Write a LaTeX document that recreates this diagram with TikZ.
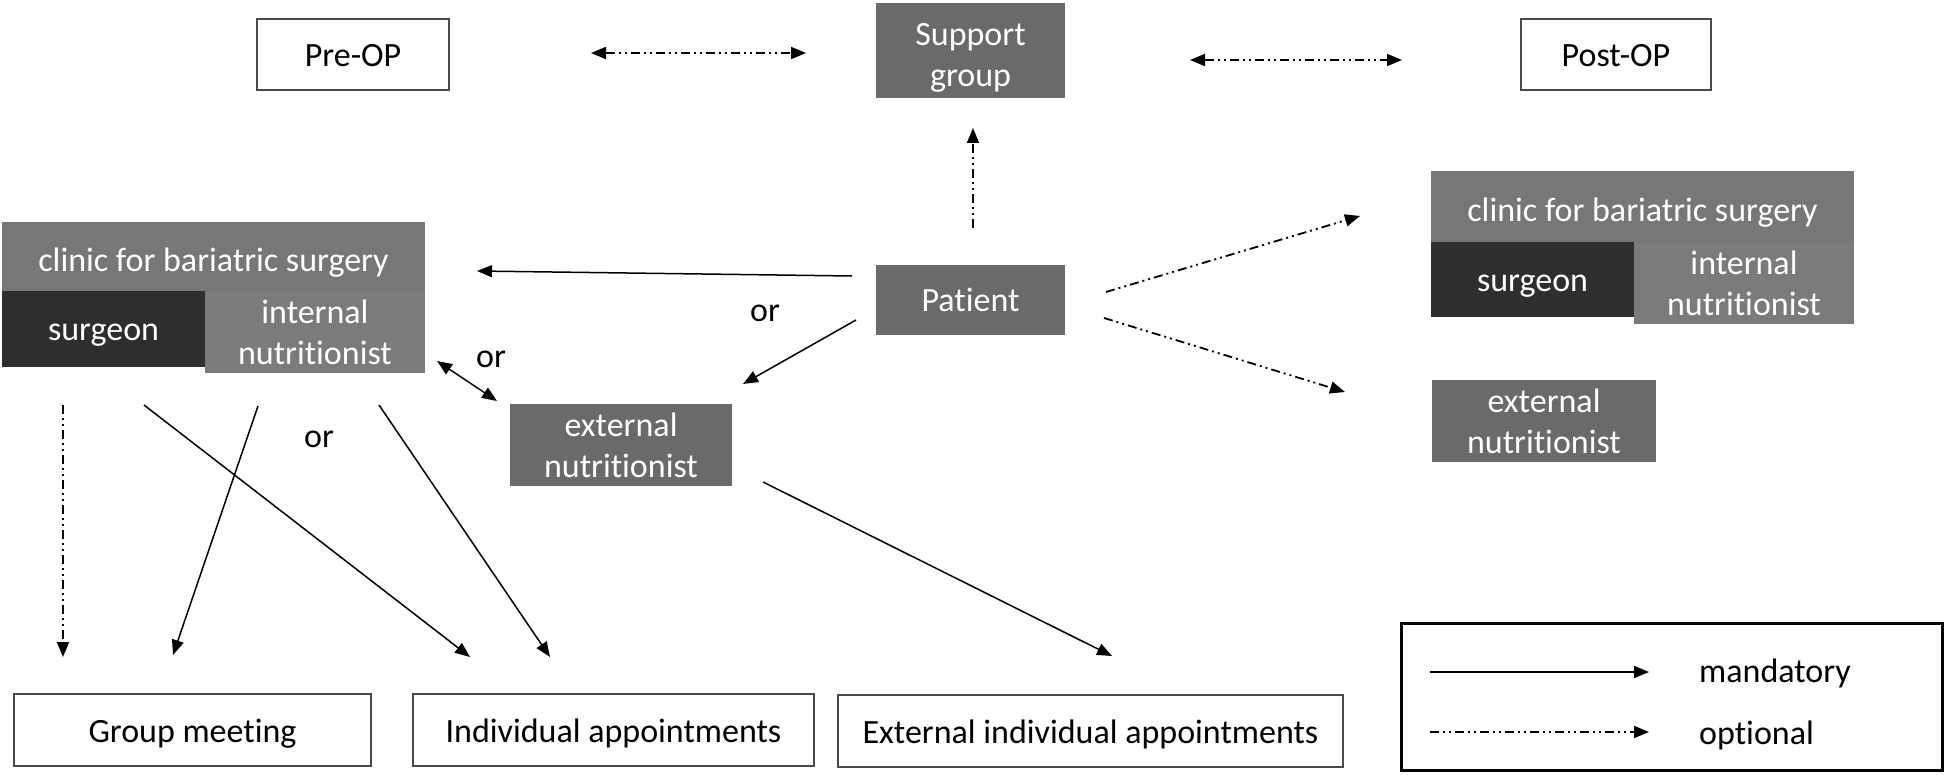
\documentclass[tikz,border=0pt]{standalone}
\usepackage{fontspec}
\setmainfont{Carlito}[Ligatures={CommonOff,ContextualOff}]
\usetikzlibrary{arrows.meta}
\definecolor{boxgray}{HTML}{6A6A6A}
\definecolor{titlegray}{HTML}{777777}
\definecolor{intgray}{HTML}{7B7B7B}
\definecolor{surggray}{HTML}{2E2E2E}
\definecolor{edgegray}{HTML}{4A4A4A}
\newcommand{\mystrut}{\rule[-8.5pt]{0pt}{41pt}}
\newcommand{\mytallstrut}{\rule[-8.5pt]{0pt}{48pt}}
\tikzset{
  base/.style={rectangle, inner sep=0pt, outer sep=0pt, anchor=north west, align=center, font=\fontsize{34}{41}\selectfont},
  whitebox/.style={base, draw=edgegray, line width=2.2pt, fill=white, text=black},
  graybox/.style={base, fill=boxgray, text=white},
  titlebox/.style={base, fill=titlegray, text=white},
  intbox/.style={base, fill=intgray, text=white},
  surgbox/.style={base, fill=surggray, text=white},
  lbl/.style={font=\fontsize{34}{41}\selectfont, inner sep=0pt},
  tip/.style={-{Triangle[length=15pt,width=12pt]}},
  tips/.style={{Triangle[length=15pt,width=12pt]}-{Triangle[length=15pt,width=12pt]}},
  mand/.style={line width=1.5pt, tip},
  mands/.style={line width=1.5pt, tips},
  opt/.style={line width=1.8pt, tip, dash pattern=on 9pt off 4pt on 2pt off 4pt on 2pt off 4pt},
  opts/.style={line width=1.8pt, tips, dash pattern=on 9pt off 4pt on 2pt off 4pt on 2pt off 4pt},
}
\begin{document}
\begin{tikzpicture}[x=1pt,y=-1pt]
\useasboundingbox (0,0) rectangle (1946,775);

% top row
\node[whitebox, minimum width=192pt, minimum height=71pt] (pre) at (257,19) {\mystrut Pre-OP\mystrut};
\node[graybox, minimum width=189pt, minimum height=95pt] (sup) at (876,3) {\mytallstrut Support\\group\mystrut};
\node[whitebox, minimum width=190pt, minimum height=71pt] (post) at (1521,19) {\mystrut Post-OP\mystrut};

% patient
\node[graybox, minimum width=189pt, minimum height=70pt] (pat) at (876,265) {\mystrut Patient\mystrut};

% left clinic
\node[titlebox, minimum width=423pt, minimum height=69pt] (lclinic) at (2,222) {\mytallstrut clinic for bariatric surgery\mystrut};
\node[surgbox, minimum width=203pt, minimum height=76pt] (lsurg) at (2,291) {\mystrut surgeon\mystrut};
\node[intbox, minimum width=220pt, minimum height=76pt] (lint) at (205,291) {\mystrut internal\\nutritionist\mystrut};

% central external nutritionist
\node[graybox, minimum width=222pt, minimum height=75pt] (cext) at (510,404) {\mystrut external\\nutritionist\mystrut};

% right clinic
\node[titlebox, minimum width=423pt, minimum height=71pt] (rclinic) at (1431,171) {\mytallstrut clinic for bariatric surgery\mystrut};
\node[surgbox, minimum width=203pt, minimum height=75pt] (rsurg) at (1431,242) {\mystrut surgeon\mystrut};
\node[intbox, minimum width=220pt, minimum height=75pt] (rint) at (1634,242) {\mystrut internal\\nutritionist\mystrut};

% right external nutritionist
\node[graybox, minimum width=224pt, minimum height=75pt] (rext) at (1432,380) {\mystrut external\\nutritionist\mystrut};

% bottom row
\node[whitebox, minimum width=357pt, minimum height=72pt] (group) at (14,694) {\mystrut Group meeting\mystrut};
\node[whitebox, minimum width=401pt, minimum height=72pt] (indiv) at (413,694) {\mystrut Individual appointments\mystrut};
\node[whitebox, minimum width=505pt, minimum height=72pt] (extapp) at (838,695) {\mystrut External individual appointments\mystrut};

% legend
\node[base, draw=black, line width=3pt, minimum width=541pt, minimum height=147pt] (legend) at (1401,623) {};
\node[lbl, anchor=west] (lmand) at (1699,673.5) {mandatory};
\node[lbl, anchor=west] (lopt) at (1699,735) {optional};

% "or" labels
\node[lbl] (or1) at (491,359) {or};
\node[lbl] (or2) at (765,313) {or};
\node[lbl] (or3) at (319,439) {or};

% connector end points
\coordinate (a1) at (591,53);  \coordinate (a2) at (806,53);
\coordinate (b1) at (1190,60); \coordinate (b2) at (1402,60);
\coordinate (c1) at (973,228); \coordinate (c2) at (973,128);
\coordinate (d1) at (852,276); \coordinate (d2) at (477,271);
\coordinate (e1) at (856,320); \coordinate (e2) at (743,384);
\coordinate (f1) at (437,361); \coordinate (f2) at (497,401);
\coordinate (g1) at (1106,292); \coordinate (g2) at (1360,216);
\coordinate (h1) at (1104,318); \coordinate (h2) at (1345,392);
\coordinate (i1) at (63,405);  \coordinate (i2) at (63,657);
\coordinate (j1) at (144,405); \coordinate (j2) at (470,657);
\coordinate (k1) at (258,406); \coordinate (k2) at (173,655);
\coordinate (l1) at (379,405); \coordinate (l2) at (550,657);
\coordinate (m1) at (763,482); \coordinate (m2) at (1112,656);
\coordinate (n1) at (1430,672); \coordinate (n2) at (1649,672);
\coordinate (o1) at (1430,732); \coordinate (o2) at (1649,732);

% connectors
\draw[opts] (a1) -- (a2);
\draw[opts] (b1) -- (b2);
\draw[opt] (c1) -- (c2);
\draw[mand] (d1) -- (d2);
\draw[mand] (e1) -- (e2);
\draw[mands] (f1) -- (f2);
\draw[opt] (g1) -- (g2);
\draw[opt] (h1) -- (h2);
\draw[opt] (i1) -- (i2);
\draw[mand] (j1) -- (j2);
\draw[mand] (k1) -- (k2);
\draw[mand] (l1) -- (l2);
\draw[mand] (m1) -- (m2);
\draw[mand] (n1) -- (n2);
\draw[opt] (o1) -- (o2);
\end{tikzpicture}
\end{document}
